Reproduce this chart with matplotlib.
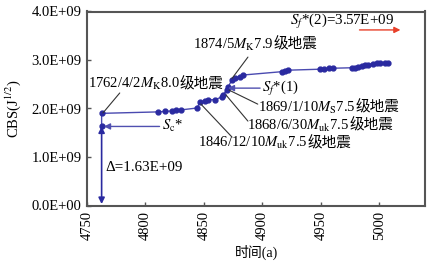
import matplotlib
matplotlib.use("Agg")
import matplotlib.pyplot as plt
from matplotlib.offsetbox import TextArea, HPacker, AnnotationBbox

plt.rcParams['font.family'] = ['Liberation Serif', 'Noto Sans CJK SC']
plt.rcParams['mathtext.fontset'] = 'stix'

# data (time in a, CBS in J^1/2)
years = [4762.5, 4762.5,
         4811, 4817, 4823, 4826, 4830,
         4844, 4846.6, 4851, 4853.4, 4859.4, 4865.4, 4866.2, 4869.7, 4870.5,
         4874, 4876.5, 4880.8, 4883.3,
         4917, 4919.5, 4922,
         4949, 4953, 4957, 4960,
         4976.5, 4979, 4981.6, 4985, 4987.6, 4990.2, 4994.4, 4997.9, 5000.4, 5004.7, 5007.3]
cbs = [1.63, 1.90,
       1.93, 1.94, 1.95, 1.96, 1.97,
       2.01, 2.13, 2.15, 2.18, 2.18, 2.24, 2.28, 2.38, 2.44,
       2.59, 2.63, 2.65, 2.69,
       2.76, 2.78, 2.79,
       2.81, 2.81, 2.83, 2.83,
       2.84, 2.84, 2.86, 2.87, 2.89, 2.90, 2.92, 2.93, 2.94, 2.94, 2.94]
cbs = [v * 1e9 for v in cbs]

xticks = [4750, 4800, 4850, 4900, 4950, 5000]
yticks = [0, 1e9, 2e9, 3e9, 4e9]
yticklabels = ["0.0E+00", "1.0E+09", "2.0E+09", "3.0E+09", "4.0E+09"]

fig = plt.figure(figsize=(4.30, 2.65), dpi=100)
ax = fig.add_axes([87/430, 1-205.5/265, 338/430, 194/265])

blue = '#2a2aa0'
ax.plot(years, cbs, color='#4a4ab0', lw=1.0, marker='o', ms=3.5,
        mfc=blue, mec=blue, zorder=3)

tfs = 10.5
ax.set_xlim(4750, 5039)
ax.set_ylim(0, 4e9)
ax.set_xticks(xticks)
ax.set_xticklabels([str(t) for t in xticks], rotation=90, fontsize=tfs)
ax.set_yticks(yticks)
ax.set_yticklabels(yticklabels, fontsize=tfs)
ax.tick_params(direction='in', length=3, width=1, color='#555555', pad=4)
for s in ax.spines.values():
    s.set_color('#555555')
    s.set_linewidth(1.5)

ax.set_ylabel(r'CBS(J$^{1/2}$)', fontsize=tfs, labelpad=6)
ax.set_xlabel('时间(a)', fontsize=10, labelpad=3)

fs = 10.5
line_kw = dict(arrowstyle='-', color='#333333', lw=0.8, shrinkA=0, shrinkB=0)


def label(parts, xy):
    areas = []
    for p in parts:
        if '$' in p:
            areas.append(TextArea(p, textprops=dict(fontsize=fs)))
        else:
            areas.append(TextArea(p, textprops=dict(fontsize=fs, family=['Noto Sans CJK SC'])))
    box = HPacker(children=areas, align='baseline', pad=0, sep=0)
    ab = AnnotationBbox(box, xy, xycoords='data', box_alignment=(0, 0.5),
                        frameon=False, pad=0)
    ax.add_artist(ab)


def leader(p_from, p_to):
    ax.annotate('', xy=p_to, xytext=p_from, arrowprops=line_kw)


label([r'1762/4/2$M_{\rm K}$8.0', '级地震'], (4750.6, 2.5e9))
leader((4778, 2.32e9), (4763.7, 1.91e9))

label([r'1874/5$M_{\rm K}$7.9', '级地震'], (4840.5, 3.31e9))
leader((4887.6, 3.06e9), (4874, 2.62e9))

label([r'1869/1/10$M_{\rm S}$7.5', '级地震'], (4896, 2.02e9))
leader((4896, 2.09e9), (4871.4, 2.38e9))

label([r'1868/6/30$M_{\rm uk}$7.5', '级地震'], (4887, 1.64e9))
leader((4887.6, 1.74e9), (4868.8, 2.28e9))

label([r'1846/12/10$M_{\rm uk}$7.5', '级地震'], (4845, 1.28e9))
leader((4874, 1.41e9), (4847.4, 2.09e9))

# S_f*(1) arrow
ax.annotate('', xy=(4870.5, 2.42e9), xytext=(4898, 2.42e9),
            arrowprops=dict(arrowstyle='-|>', color='#5050b0', lw=1.0, mutation_scale=9,
                            shrinkA=0, shrinkB=0))
ax.text(4899.5, 2.42e9, r'$S_f$*(1)', fontsize=fs, va='center', ha='left')

# S_c* arrow
ax.annotate('', xy=(4764.5, 1.63e9), xytext=(4812, 1.63e9),
            arrowprops=dict(arrowstyle='-|>', color='#5050b0', lw=1.0, mutation_scale=9,
                            shrinkA=0, shrinkB=0))
ax.text(4814, 1.63e9, r'$S_{\rm c}$*', fontsize=fs, va='center', ha='left')

# Delta double arrow
ax.annotate('', xy=(4762.5, 0.03e9), xytext=(4762.5, 1.63e9),
            arrowprops=dict(arrowstyle='<|-|>', color=blue, lw=1.2, mutation_scale=9,
                            shrinkA=0, shrinkB=0))
ax.text(4765.5, 0.78e9, 'Δ=1.63E+09', fontsize=10.8, va='center', ha='left')

# S_f*(2)
ax.text(4968, 3.79e9, r'$S_f$*(2)=3.57E+09', fontsize=10.8, va='center', ha='center')
ax.annotate('', xy=(5018, 3.62e9), xytext=(4983, 3.62e9),
            arrowprops=dict(arrowstyle='-|>', color='#e8402a', lw=1.0, mutation_scale=9,
                            shrinkA=0, shrinkB=0))

fig.savefig('out.png', dpi=100)
